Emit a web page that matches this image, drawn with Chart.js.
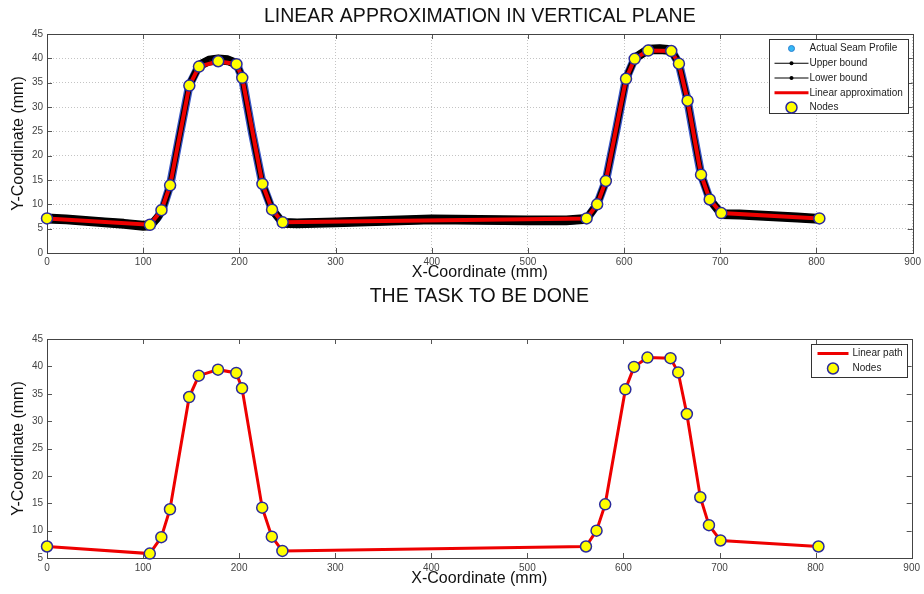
<!DOCTYPE html>
<html><head><meta charset="utf-8">
<script src="https://cdn.jsdelivr.net/npm/chart.js@4.4.1/dist/chart.umd.min.js"></script>
<style>
html,body{margin:0;padding:0;background:#fff;width:924px;height:594px;overflow:hidden}
canvas{position:absolute;left:0}
#c1{top:0}
#c2{top:280px}
</style></head><body>
<canvas id="c1" width="924" height="290"></canvas>
<canvas id="c2" width="924" height="314"></canvas>
<script>
// ---- data ----
const nodeX = [0,107,119,128,148,158,178,197,203,224,234,245,561,572,581,602,611,625,649,657,666,680,689,701,803];
const nodeY = [7.1,5.8,8.8,13.9,34.4,38.3,39.4,38.8,36.0,14.2,8.9,6.3,7.1,10.0,14.8,35.8,39.9,41.6,41.5,38.9,31.3,16.1,11.0,8.2,7.1];

const profileX = [0,20,40,60,80,100,108,115,120,128,138,148,158,168,178,188,197,203,213,224,234,245,260,300,350,400,450,500,540,561,572,581,592,602,611,625,637,649,657,666,673,680,689,701,720,740,760,780,803];
const profileY = [7.1,6.9,6.6,6.3,6.0,5.6,5.7,7.3,8.9,13.9,24.3,34.5,38.5,39.5,39.8,39.6,38.9,36.0,25.0,14.2,8.9,6.2,6.1,6.3,6.6,6.9,6.8,6.7,6.7,7.0,10.0,14.8,25.5,35.8,40.0,41.8,41.9,41.7,38.9,31.3,23.5,16.1,11.0,8.0,7.9,7.7,7.5,7.3,7.0];
const upperY = [7.6,7.4,7.1,6.8,6.5,6.1,6.2,7.8,9.4,14.4,24.8,35.0,39.0,40.0,40.3,40.1,39.4,36.5,25.5,14.7,9.4,6.7,6.6,6.8,7.1,7.4,7.3,7.2,7.2,7.5,10.5,15.3,26.0,36.3,40.5,42.3,42.4,42.2,39.4,31.8,24.0,16.6,11.5,8.5,8.4,8.2,8.0,7.8,7.5];
const lowerY = [6.6,6.4,6.1,5.8,5.5,5.1,5.2,6.8,8.4,13.4,23.8,34.0,38.0,39.0,39.3,39.1,38.4,35.5,24.5,13.7,8.4,5.7,5.6,5.8,6.1,6.4,6.3,6.2,6.2,6.5,9.5,14.3,25.0,35.3,39.5,41.3,41.4,41.2,38.4,30.8,23.0,15.6,10.5,7.5,7.4,7.2,7.0,6.8,6.5];

const xTicksMax = 900, xStep = 100;
const topYMin = 0, topYMax = 45, botYMin = 5, botYMax = 45, yStep = 5;

const title1 = 'LINEAR APPROXIMATION IN VERTICAL PLANE';
const title2 = 'THE TASK TO BE DONE';
const xTitle = 'X-Coordinate (mm)';
const yTitle = 'Y-Coordinate (mm)';
const legend1 = ['Actual Seam Profile','Upper bound','Lower bound','Linear approximation','Nodes'];
const legend2 = ['Linear path','Nodes'];

// ---- helpers ----
const pts = (xs, ys) => xs.map((x, i) => ({x, y: ys[i]}));
const FONT = '"Liberation Sans", Arial, Helvetica, sans-serif';
const RED = '#ee0000', YEL = '#ffff00', NODE_EDGE = '#2a2a9c';

const frame = {
  id: 'frame',
  beforeDatasetsDraw(chart, args, o) {
    const {ctx, chartArea: a, scales: {x, y}} = chart;
    ctx.save();
    ctx.strokeStyle = '#555'; ctx.lineWidth = 1;
    ctx.beginPath();
    x.ticks.forEach(t => {
      if (t.value <= x.min || t.value >= x.max) return;
      const p = Math.round(x.getPixelForValue(t.value)) + 0.5;
      ctx.moveTo(p, a.bottom); ctx.lineTo(p, a.bottom - 5);
      ctx.moveTo(p, a.top); ctx.lineTo(p, a.top + 5);
    });
    y.ticks.forEach(t => {
      if (t.value <= y.min || t.value >= y.max) return;
      const p = Math.round(y.getPixelForValue(t.value)) + 0.5;
      ctx.moveTo(a.left, p); ctx.lineTo(a.left + 5, p);
      ctx.moveTo(a.right, p); ctx.lineTo(a.right - 5, p);
    });
    ctx.stroke();
    ctx.strokeStyle = '#444';
    ctx.strokeRect(Math.round(a.left) + 0.5, Math.round(a.top) + 0.5, Math.round(a.right - a.left), Math.round(a.bottom - a.top));
    ctx.fillStyle = '#111';
    ctx.font = '19.5px ' + FONT;
    ctx.textAlign = 'center'; ctx.textBaseline = 'middle';
    ctx.fillText(o.title, (a.left + a.right) / 2, o.titleY);
    ctx.restore();
  },
  afterDraw(chart, args, o) {
    const {ctx, chartArea: a} = chart;
    const L = o.legend;
    const bx = Math.round(a.right - 5 - L.w) + 0.5, by = Math.round(a.top + 5) + 0.5;
    ctx.save();
    ctx.fillStyle = '#fff'; ctx.fillRect(bx, by, L.w, L.h);
    ctx.strokeStyle = '#333'; ctx.lineWidth = 1; ctx.strokeRect(bx, by, L.w, L.h);
    ctx.font = '10px ' + FONT; ctx.textBaseline = 'middle'; ctx.textAlign = 'left';
    L.items.forEach((it, i) => {
      const cy = by + L.y0 + i * L.dy;
      const x0 = bx + L.ix0, x1 = bx + L.ix1, cx = (x0 + x1) / 2;
      if (it.kind === 'dot') {
        ctx.beginPath(); ctx.arc(cx, cy, 3, 0, Math.PI * 2);
        ctx.fillStyle = '#35b8f5'; ctx.fill(); ctx.strokeStyle = '#2a7fd0'; ctx.stroke();
      } else if (it.kind === 'linedot') {
        ctx.beginPath(); ctx.moveTo(x0, cy); ctx.lineTo(x1, cy); ctx.strokeStyle = '#000'; ctx.lineWidth = 1; ctx.stroke();
        ctx.beginPath(); ctx.arc(cx, cy, 2, 0, Math.PI * 2); ctx.fillStyle = '#000'; ctx.fill();
      } else if (it.kind === 'line') {
        ctx.beginPath(); ctx.moveTo(x0, cy); ctx.lineTo(x1, cy); ctx.strokeStyle = RED; ctx.lineWidth = 3; ctx.stroke();
      } else if (it.kind === 'node') {
        ctx.beginPath(); ctx.arc(cx, cy, 5.5, 0, Math.PI * 2);
        ctx.fillStyle = YEL; ctx.fill(); ctx.strokeStyle = NODE_EDGE; ctx.lineWidth = 1.5; ctx.stroke();
      }
      ctx.lineWidth = 1;
      ctx.fillStyle = '#222';
      ctx.fillText(it.label, bx + L.tx, cy);
    });
    ctx.restore();
  }
};

function scales(yMin, yMax, grid, xh, xPadB, tickPad) {
  return {
    x: {
      type: 'linear', min: 0, max: xTicksMax,
      ticks: {stepSize: xStep, color: '#444', font: {size: 10, family: FONT}, padding: tickPad, maxRotation: 0},
      grid: {display: grid, drawTicks: false, color: '#c4c4c4', lineWidth: 1},
      border: {display: false, dash: [1, 2]},
      title: {display: true, text: xTitle, color: '#111', font: {size: 16, family: FONT}, padding: {top: 0, bottom: xPadB}},
      afterFit: s => { s.height = xh; }
    },
    y: {
      type: 'linear', min: yMin, max: yMax,
      ticks: {stepSize: yStep, color: '#444', font: {size: 10, family: FONT}, padding: 4},
      grid: {display: grid, drawTicks: false, color: '#c4c4c4', lineWidth: 1},
      border: {display: false, dash: [1, 2]},
      title: {display: true, text: yTitle, color: '#111', font: {size: 16, family: FONT}, padding: {top: 9, bottom: 0}},
      afterFit: s => { s.width = 47; }
    }
  };
}

const common = {
  responsive: false, animation: false, events: [],
  plugins: {legend: {display: false}, tooltip: {enabled: false}, title: {display: false}},
};

const nodeDs = (order) => ({
  label: 'Nodes', data: pts(nodeX, nodeY), showLine: false, order, clip: false,
  pointRadius: 5.5, pointBackgroundColor: YEL, pointBorderColor: NODE_EDGE, pointBorderWidth: 1.5
});

new Chart(document.getElementById('c1'), {
  type: 'scatter',
  data: {datasets: [
    nodeDs(0),
    {label: legend1[3], data: pts(nodeX, nodeY), showLine: true, order: 1, borderColor: RED, borderWidth: 4, pointRadius: 0, tension: 0},
    {label: legend1[1], data: pts(profileX, upperY), showLine: true, order: 2, borderColor: '#000', borderWidth: 5, pointRadius: 0, borderJoinStyle: 'round', borderCapStyle: 'round'},
    {label: legend1[2], data: pts(profileX, lowerY), showLine: true, order: 3, borderColor: '#000', borderWidth: 5, pointRadius: 0, borderJoinStyle: 'round', borderCapStyle: 'round'},
    {label: legend1[0], data: pts(profileX, profileY), showLine: true, order: 4, borderColor: '#3a56c8', borderWidth: 8.5, pointRadius: 0, borderJoinStyle: 'round', borderCapStyle: 'round'}
  ]},
  options: Object.assign({}, common, {
    layout: {padding: {left: 0, right: 7, top: 34, bottom: 0}},
    scales: scales(topYMin, topYMax, true, 37, 8, 3),
    plugins: Object.assign({}, common.plugins, {
      frame: {title: title1, titleY: 17, legend: {w: 139, h: 74, y0: 9, dy: 14.75, ix0: 5, ix1: 39, tx: 40,
        items: [
          {label: legend1[0], kind: 'dot'},
          {label: legend1[1], kind: 'linedot'},
          {label: legend1[2], kind: 'linedot'},
          {label: legend1[3], kind: 'line'},
          {label: legend1[4], kind: 'node'}
        ]}}
    })
  }),
  plugins: [frame]
});

new Chart(document.getElementById('c2'), {
  type: 'scatter',
  data: {datasets: [
    nodeDs(0),
    {label: legend2[0], data: pts(nodeX, nodeY), showLine: true, order: 1, borderColor: RED, borderWidth: 3, pointRadius: 0, tension: 0}
  ]},
  options: Object.assign({}, common, {
    layout: {padding: {left: 0, right: 7, top: 59, bottom: 0}},
    scales: scales(botYMin, botYMax, false, 36, 6, 4),
    plugins: Object.assign({}, common.plugins, {
      frame: {title: title2, titleY: 17, legend: {w: 96, h: 33, y0: 9, dy: 15, ix0: 6, ix1: 37, tx: 41,
        items: [
          {label: legend2[0], kind: 'line'},
          {label: legend2[1], kind: 'node'}
        ]}}
    })
  }),
  plugins: [frame]
});
</script>
</body></html>
